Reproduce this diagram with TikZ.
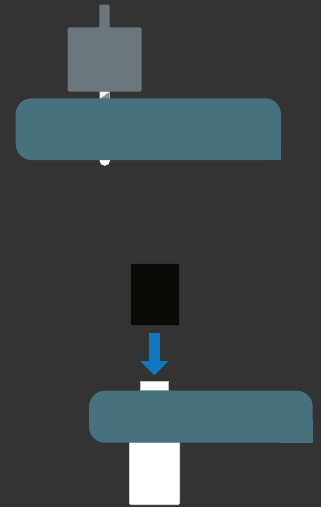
\documentclass[tikz,border=0pt]{standalone}
\usetikzlibrary{arrows.meta}
\definecolor{bg}{HTML}{333333}
\definecolor{slabc}{HTML}{48717E}
\definecolor{toolgray}{HTML}{6C777D}
\definecolor{screwshade}{HTML}{7F8E94}
\definecolor{blockblack}{HTML}{0A0905}
\definecolor{pushblue}{HTML}{1177C0}
\tikzset{
  slab/.style={fill=slabc},
  gray part/.style={fill=toolgray, rounded corners=2pt},
  white part/.style={fill=white, draw=black!25, line width=0.6pt},
  black part/.style={fill=blockblack, draw=black!82, line width=0.5pt, inner sep=0pt},
  push arrow/.style={draw=pushblue, line width=10.7pt,
    -{Triangle[width=27.6pt, length=14.3pt]}},
}
\begin{document}
\begin{tikzpicture}[x=1pt, y=-1pt]
  % canvas
  \fill[bg] (0,0) rectangle (321,507);
  \useasboundingbox (0,0) rectangle (321,507);

  % --- upper assembly: driver, screw and panel ---
  \fill[gray part, rounded corners=1pt] (99.3,4.7) rectangle (109.7,30);
  \fill[gray part] (67.7,27.3) rectangle (141.7,91.7);
  % screw shank between driver and panel
  \fill[white] (99.5,91.7) rectangle (109.5,99);
  \fill[screwshade] (109.5,91.7) -- (109.5,99) -- (99.5,99) -- cycle;
  \fill[white!92!gray] (99.5,91.7) -- (109.5,91.7) -- (99.5,99) -- cycle;
  % screw tip under the panel
  \fill[white] (99.5,157) -- (110,157) -- (110,160.5)
      arc[start angle=0, end angle=-180, radius=5.25pt] -- cycle;
  % panel with three rounded corners
  \fill[slab, rounded corners=16pt] (15.7,98.3) rectangle (281,160);
  \fill[slab] (250,130) rectangle (281,160);

  % --- lower assembly: block pressed onto insert ---
  \node[black part, minimum width=49.3pt, minimum height=62.4pt]
    (block) at (154.65,294.5) {};
  \node[white part, inner sep=0pt, minimum width=28pt, minimum height=9.7pt]
    (insert) at (154.7,385.85) {};
  \fill[slab, rounded corners=16pt] (89,390.7) rectangle (312.7,442.7);
  \fill[slab] (280,420) rectangle (312.7,442.7);
  \draw[white part, rounded corners=1.5pt]
    (129.3,442.7) -- (129.3,504.7) -- (179.7,504.7) -- (179.7,442.7);
  \fill[white, rounded corners=1.5pt] (129.6,443) rectangle (179.4,504.4);

  % pushing direction
  \coordinate (arrowstart) at (154.3,332.7);
  \coordinate (arrowtip) at (154.3,375.3);
  \draw[push arrow] (arrowstart) -- (arrowtip);
\end{tikzpicture}
\end{document}
